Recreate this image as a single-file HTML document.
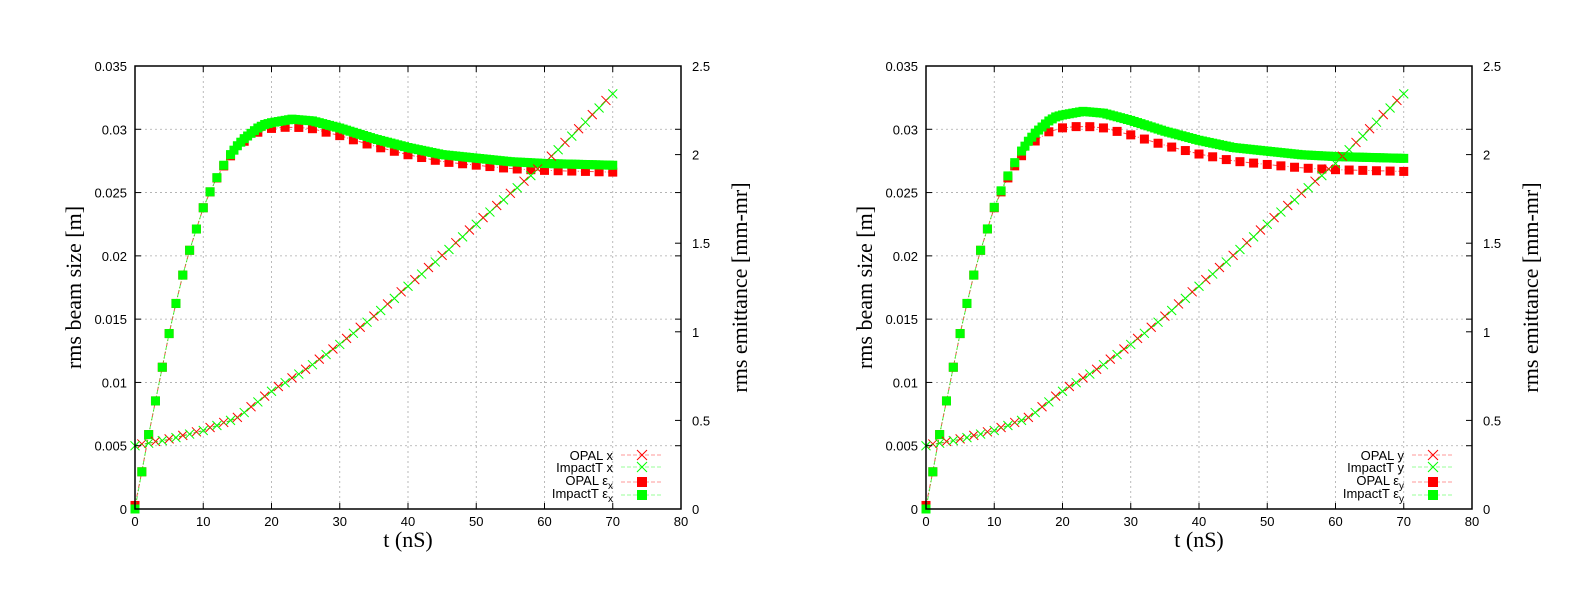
<!DOCTYPE html>
<html><head><meta charset="utf-8"><style>
html,body{margin:0;padding:0;background:#fff;}
svg{display:block;}
text{font-family:"Liberation Sans",sans-serif;font-size:13px;fill:#000;}
.ser{font-family:"Liberation Serif",serif;font-size:22px;}
</style></head><body>
<svg id="s" width="1584" height="612" xmlns="http://www.w3.org/2000/svg"></svg>
<script>
const S=document.getElementById('s');let out='';
function interp(pts,t){for(let i=0;i<pts.length-1;i++){if(t<=pts[i+1][0]){const a=pts[i],b=pts[i+1];return a[1]+(b[1]-a[1])*(t-a[0])/(b[0]-a[0]);}}return pts[pts.length-1][1];}
const EM=[[0,0],[1,.21],[2,.42],[3,.61],[4,.80],[5,.99],[6,1.16],[7,1.32],[8,1.46],[9,1.58],[10,1.70],[11,1.79],[12,1.87],[13,1.94],[14,2.0],[15,2.05],[16,2.09],[17,2.12],[18,2.15],[19,2.17],[20,2.18],[23,2.20],[26,2.19],[30,2.15],[35,2.09],[40,2.04],[45,2.00],[50,1.98],[55,1.96],[60,1.95],[70,1.94]];
const SZ=[[0,.005],[5,.0055],[10,.0062],[15,.0072],[20,.0093],[25,.0110],[30,.0130],[35,.0152],[40,.0176],[45,.0200],[50,.0225],[55,.0249],[60,.0273],[65,.0300],[70,.0328]];
function sm(t,a,b){let x=Math.min(1,Math.max(0,(t-a)/(b-a)));return x*x*(3-2*x);}
function plot(x0,lab){
 const W=546,y0=66,y1=509,H=y1-y0;
 const X=t=>x0+t*W/80, Y=v=>y1-v/0.035*H, Y2=e=>y1-e/2.5*H;
 for(let i=1;i<8;i++)out+=`<line x1="${X(i*10)}" y1="${y0}" x2="${X(i*10)}" y2="${y1}" stroke="#aaa" stroke-width="0.8" stroke-dasharray="2,3"/>`;
 for(let i=1;i<7;i++)out+=`<line x1="${x0}" y1="${Y(i*.005)}" x2="${x0+W}" y2="${Y(i*.005)}" stroke="#aaa" stroke-width="0.8" stroke-dasharray="2,3"/>`;
 const isY=lab=='y';
 const imp=t=>interp(EM,t)*(isY?1+0.02*sm(t,8,20):1);
 const op=t=>interp(EM,t)*(isY?1-0.018*sm(t,10,25):1-0.02*sm(t,10,25))+(t==0?0.02:0);
 const sz=t=>interp(SZ,t);
 function line(f,Yf,col,dash,T){let p='';T.forEach((t,i)=>{p+=(i?'L':'M')+X(t).toFixed(1)+','+Yf(f(t)).toFixed(1);});out+=`<path d="${p}" fill="none" stroke="${col}" stroke-width="1" stroke-dasharray="${dash}" opacity="0.7"/>`;}
 function sq(f,col,T){T.forEach(t=>{out+=`<rect x="${X(t)-4.5}" y="${Y2(f(t))-4.5}" width="9" height="9" fill="${col}"/>`;});}
 function cr(f,col,d,T){T.forEach(t=>{const x=X(t),y=Y(f(t)+d);out+=`<path d="M${x-4.5},${y-4.5}L${x+4.5},${y+4.5}M${x-4.5},${y+4.5}L${x+4.5},${y-4.5}" stroke="${col}" stroke-width="1"/>`;});}
 const Tce=[],Tco=[],Tca=[];for(let t=0;t<=70;t++){Tca.push(t);(t%2?Tco:Tce).push(t);}
 const Tr=[];for(let t=0;t<=70;t+=(t<14?1:2))Tr.push(t);
 const Tg=[];for(let t=0;t<=70.001;t+=(t<14?1:0.5))Tg.push(+t.toFixed(2));
 line(op,Y2,'#f00','4,2,1,2',Tr);sq(op,'#f00',Tr);
 line(imp,Y2,'#0f0','4,2,1,2',Tg);sq(imp,'#0f0',Tg);
 line(sz,Y,'#f00','3,2',Tca);cr(sz,'#f00',0.00004,Tco);
 line(sz,Y,'#0f0','3,2',Tca);cr(sz,'#0f0',0,Tce);
 out+=`<rect x="${x0}" y="${y0}" width="${W}" height="${H}" fill="none" stroke="#000" stroke-width="1.5"/>`;
 for(let i=0;i<=8;i++){const x=X(i*10);out+=`<line x1="${x}" y1="${y1}" x2="${x}" y2="${y1-6}" stroke="#000"/><line x1="${x}" y1="${y0}" x2="${x}" y2="${y0+6}" stroke="#000"/><text x="${x}" y="${y1+17}" text-anchor="middle">${i*10}</text>`;}
 const yl=['0','0.005','0.01','0.015','0.02','0.025','0.03','0.035'];
 for(let i=0;i<8;i++){const y=Y(i*.005);out+=`<line x1="${x0}" y1="${y}" x2="${x0+6}" y2="${y}" stroke="#000"/><line x1="${x0+W}" y1="${y}" x2="${x0+W-6}" y2="${y}" stroke="#000"/><text x="${x0-8}" y="${y+5}" text-anchor="end">${yl[i]}</text>`;}
 const rl=['0','0.5','1','1.5','2','2.5'];
 for(let i=0;i<6;i++){const y=Y2(i*.5);out+=`<line x1="${x0+W}" y1="${y}" x2="${x0+W-6}" y2="${y}" stroke="#000"/><text x="${x0+W+11}" y="${y+5}">${rl[i]}</text>`;}
 out+=`<text class="ser" x="${x0+W/2}" y="547" text-anchor="middle">t (nS)</text>`;
 out+=`<text class="ser" transform="translate(${x0-54},${(y0+y1)/2}) rotate(-90)" text-anchor="middle">rms beam size [m]</text>`;
 out+=`<text class="ser" transform="translate(${x0+W+66},${(y0+y1)/2}) rotate(-90)" text-anchor="middle">rms emittance [mm-mr]</text>`;
 const lx=x0+W-60, rows=[455,467,482,495];
 const L=[['OPAL '+lab,'#f00','x'],['ImpactT '+lab,'#0f0','x'],['OPAL ε','#f00','s'],['ImpactT ε','#0f0','s']];
 L.forEach((r,i)=>{const y=rows[i];
  if(r[2]=='x')out+=`<text x="${lx-8}" y="${y+5}" text-anchor="end">${r[0]}</text>`;
  else out+=`<text x="${lx-8}" y="${y+3}" text-anchor="end">${r[0]}<tspan font-size="10" dy="4">${lab}</tspan></text>`;
  out+=`<line x1="${lx}" y1="${y}" x2="${lx+42}" y2="${y}" stroke="${r[1]}" stroke-dasharray="4,2" opacity="0.4"/>`;
  const mx=lx+21;
  if(r[2]=='x')out+=`<path d="M${mx-5},${y-5}L${mx+5},${y+5}M${mx-5},${y+5}L${mx+5},${y-5}" stroke="${r[1]}"/>`;
  else out+=`<rect x="${mx-5}" y="${y-5}" width="10" height="10" fill="${r[1]}"/>`;
 });
}
plot(135,'x');plot(926,'y');
S.innerHTML=out;
</script>
</body></html>
